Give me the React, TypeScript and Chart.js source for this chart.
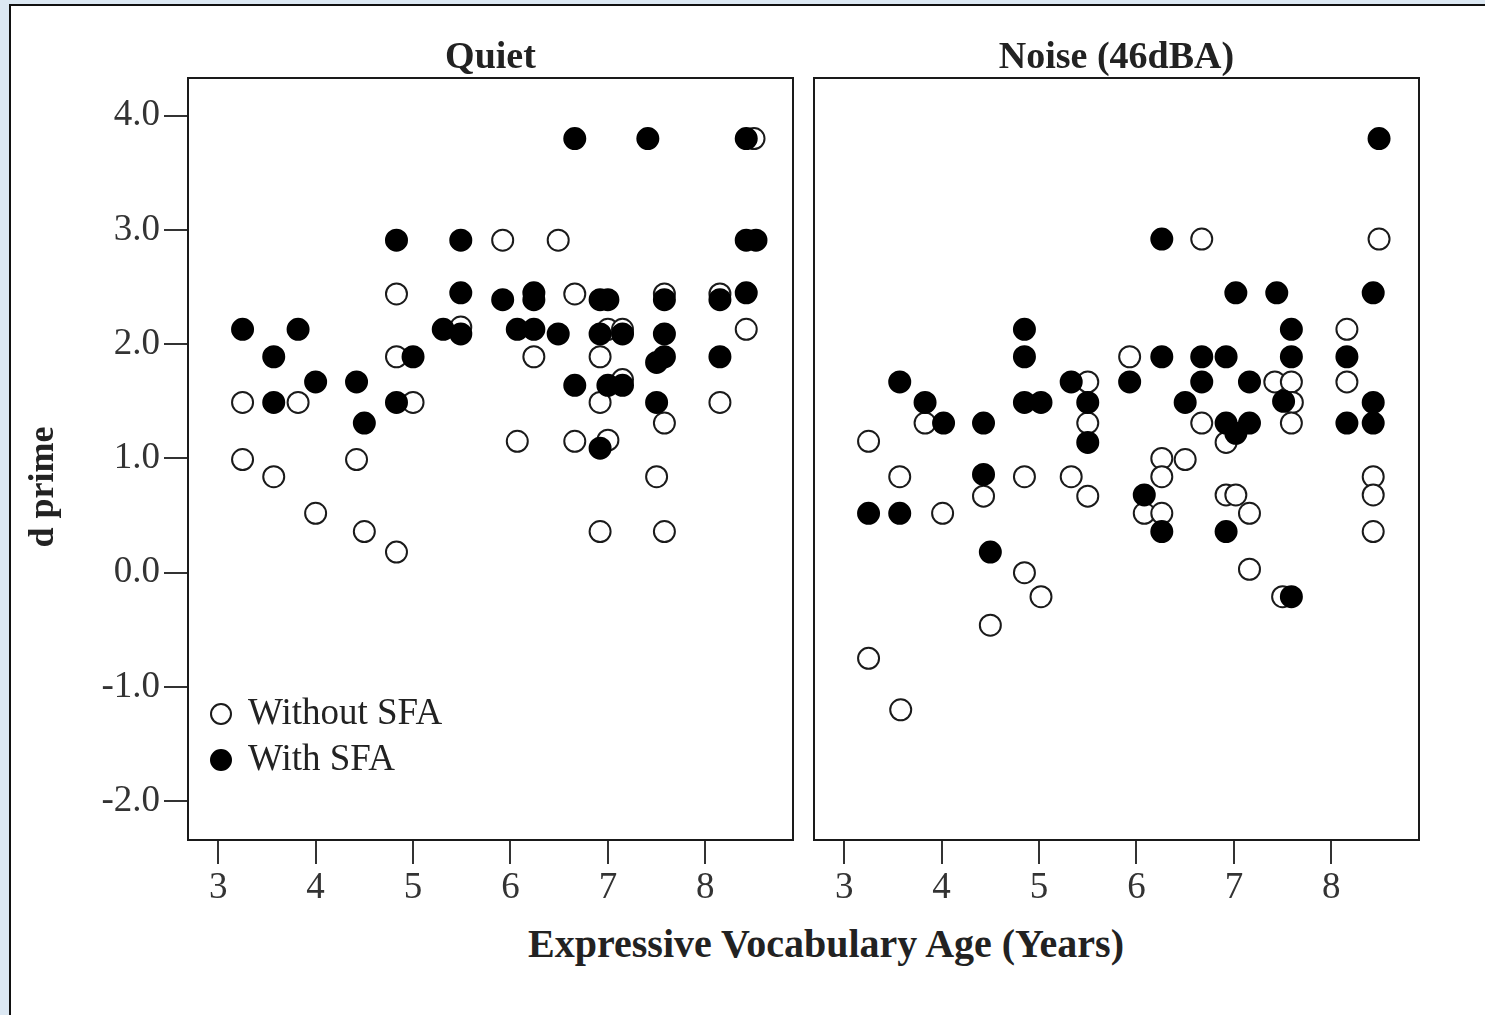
import React, { useEffect, useRef } from "react";
import { Chart, registerables } from "chart.js";

Chart.register(...registerables);

// ---- labels ----
const panelTitles = ["Quiet", "Noise (46dBA)"];
const seriesLabels = ["Without SFA", "With SFA"];
const xAxisTitle = "Expressive Vocabulary Age (Years)";
const yAxisTitle = "d prime";
const xTicks = [3, 4, 5, 6, 7, 8];
const yTicks = [-2, -1, 0, 1, 2, 3, 4];

// ---- Quiet panel ----
const quietWithoutX = [3.25, 3.25, 3.57, 3.82, 4.0, 4.42, 4.5, 4.83, 4.83, 4.83, 5.0, 5.49, 5.92, 6.07, 6.24, 6.49, 6.66, 6.66, 6.92, 6.92, 6.92, 7.0, 7.0, 7.15, 7.15, 7.5, 7.58, 7.58, 7.58, 8.15, 8.15, 8.42, 8.5];
const quietWithoutY = [1.49, 0.99, 0.84, 1.49, 0.52, 0.99, 0.36, 2.44, 1.89, 0.18, 1.49, 2.15, 2.91, 1.15, 1.89, 2.91, 2.44, 1.15, 1.89, 1.49, 0.36, 2.13, 1.16, 2.13, 1.69, 0.84, 2.44, 1.31, 0.36, 2.44, 1.49, 2.13, 3.8];
const quietWithX = [3.25, 3.57, 3.57, 3.82, 4.0, 4.42, 4.5, 4.83, 4.83, 5.0, 5.31, 5.49, 5.49, 5.49, 5.92, 6.07, 6.24, 6.24, 6.24, 6.49, 6.66, 6.66, 6.92, 7.0, 6.92, 6.92, 7.0, 7.15, 7.15, 7.41, 7.5, 7.5, 7.58, 7.58, 7.58, 8.15, 8.15, 8.42, 8.42, 8.52, 8.42];
const quietWithY = [2.13, 1.89, 1.49, 2.13, 1.67, 1.67, 1.31, 2.91, 1.49, 1.89, 2.13, 2.91, 2.45, 2.09, 2.39, 2.13, 2.45, 2.39, 2.13, 2.09, 3.8, 1.64, 2.39, 2.39, 2.09, 1.09, 1.64, 1.64, 2.09, 3.8, 1.84, 1.49, 2.39, 2.09, 1.89, 2.39, 1.89, 3.8, 2.91, 2.91, 2.45];

// ---- Noise panel ----
const noiseWithoutX = [3.25, 3.25, 3.57, 3.58, 3.83, 4.01, 4.43, 4.5, 4.85, 4.85, 5.02, 5.33, 5.5, 5.5, 5.5, 5.93, 6.08, 6.26, 6.26, 6.26, 6.5, 6.67, 6.67, 6.92, 6.92, 7.02, 7.16, 7.16, 7.42, 7.59, 7.6, 7.59, 7.5, 8.16, 8.16, 8.43, 8.43, 8.43, 8.49];
const noiseWithoutY = [1.15, -0.75, 0.84, -1.2, 1.31, 0.52, 0.67, -0.46, 0.84, 0.0, -0.21, 0.84, 1.67, 1.31, 0.67, 1.89, 0.52, 1.0, 0.84, 0.52, 0.99, 2.92, 1.31, 1.14, 0.68, 0.68, 0.52, 0.03, 1.67, 1.67, 1.49, 1.31, -0.21, 2.13, 1.67, 0.84, 0.68, 0.36, 2.92];
const noiseWithX = [3.25, 3.57, 3.57, 3.83, 4.02, 4.43, 4.43, 4.5, 4.85, 4.85, 4.85, 5.02, 5.33, 5.5, 5.5, 5.93, 6.08, 6.26, 6.26, 6.26, 6.5, 6.67, 6.67, 6.92, 6.92, 6.92, 7.02, 7.02, 7.16, 7.16, 7.44, 7.51, 7.59, 7.59, 7.59, 8.16, 8.16, 8.43, 8.43, 8.43, 8.49];
const noiseWithY = [0.52, 1.67, 0.52, 1.49, 1.31, 1.31, 0.86, 0.18, 2.13, 1.89, 1.49, 1.49, 1.67, 1.49, 1.14, 1.67, 0.68, 2.92, 1.89, 0.36, 1.49, 1.89, 1.67, 1.89, 1.31, 0.36, 2.45, 1.22, 1.67, 1.31, 2.45, 1.5, 2.13, 1.89, -0.21, 1.89, 1.31, 2.45, 1.49, 1.31, 3.8];

const X_MIN = 2.69;
const X_MAX = 8.9;
const Y_MIN = -2.34;
const Y_MAX = 4.33;

const SERIF = "'Liberation Serif', 'Times New Roman', Times, serif";
const INK = "#1a1a1a";

function toPoints(xs: number[], ys: number[]) {
  return xs.map((x, i) => ({ x, y: ys[i] }));
}

const frameBox = {
  id: "frameBox",
  afterDraw(chart: any) {
    const { ctx, chartArea: a } = chart;
    ctx.save();
    ctx.strokeStyle = INK;
    ctx.lineWidth = 2;
    ctx.strokeRect(a.left, a.top, a.right - a.left, a.bottom - a.top);
    ctx.restore();
  },
};

const insetLegend = {
  id: "insetLegend",
  afterDraw(chart: any, _args: any, opts: any) {
    if (!opts || !opts.display) return;
    const { ctx, chartArea: a } = chart;
    const ds = chart.data.datasets;
    ctx.save();
    ctx.font = `37px ${SERIF}`;
    ctx.textBaseline = "middle";
    ctx.textAlign = "left";
    ds.forEach((d: any, i: number) => {
      const cy = a.bottom - 80 - (ds.length - 1 - i) * 46;
      const cx = a.left + 33;
      ctx.beginPath();
      ctx.arc(cx, cy, 10, 0, Math.PI * 2);
      ctx.fillStyle = d.pointBackgroundColor;
      ctx.fill();
      ctx.lineWidth = 2;
      ctx.strokeStyle = d.pointBorderColor;
      ctx.stroke();
      ctx.fillStyle = "#222";
      ctx.fillText(d.label, a.left + 60, cy);
    });
    ctx.restore();
  },
};

function makeConfig(title: string, openPts: any[], filledPts: any[], showY: boolean): any {
  const pointCommon = {
    pointStyle: "circle",
    pointRadius: 10.5,
    pointHoverRadius: 10.5,
    pointBorderWidth: 2,
    showLine: false,
  };
  return {
    type: "scatter",
    data: {
      datasets: [
        {
          ...pointCommon,
          label: seriesLabels[0],
          data: openPts,
          pointBackgroundColor: "#ffffff",
          pointBorderColor: INK,
          order: 2,
        },
        {
          ...pointCommon,
          label: seriesLabels[1],
          data: filledPts,
          pointBackgroundColor: "#000000",
          pointBorderColor: "#000000",
          order: 1,
        },
      ],
    },
    options: {
      animation: false,
      responsive: false,
      maintainAspectRatio: false,
      events: [],
      layout: {
        autoPadding: false,
        padding: showY
          ? { left: 0, right: 2, top: 0, bottom: 0 }
          : { left: 14, right: 2, top: 0, bottom: 0 },
      },
      plugins: {
        legend: { display: false },
        tooltip: { enabled: false },
        title: {
          display: true,
          text: title,
          fullSize: false,
          color: "#222",
          font: { family: SERIF, size: 38, weight: "bold", lineHeight: 1.0 },
          padding: { top: 18.8, bottom: 1.2 },
        },
        insetLegend: { display: showY },
      },
      scales: {
        x: {
          type: "linear",
          min: X_MIN,
          max: X_MAX,
          afterBuildTicks: (s: any) => {
            s.ticks = xTicks.map((v) => ({ value: v }));
          },
          afterFit: (s: any) => {
            s.height = 80;
            s.paddingLeft = 0;
            s.paddingRight = 0;
          },
          grid: {
            drawOnChartArea: false,
            drawTicks: true,
            tickLength: 24,
            color: "#333",
            lineWidth: 2,
          },
          border: { display: false },
          ticks: {
            color: "#333",
            font: { family: SERIF, size: 37, lineHeight: 1.2 },
            padding: 2,
            maxRotation: 0,
            autoSkip: false,
            callback: (v: any) => String(v),
          },
        },
        y: {
          type: "linear",
          display: showY,
          min: Y_MIN,
          max: Y_MAX,
          afterBuildTicks: (s: any) => {
            s.ticks = yTicks.map((v) => ({ value: v }));
          },
          afterFit: (s: any) => {
            s.width = showY ? 168 : 0;
            s.paddingTop = 0;
            s.paddingBottom = 0;
          },
          grid: {
            drawOnChartArea: false,
            drawTicks: true,
            tickLength: 24,
            color: "#333",
            lineWidth: 2,
          },
          border: { display: false },
          ticks: {
            color: "#333",
            font: { family: SERIF, size: 37, lineHeight: 1.2 },
            padding: 4,
            autoSkip: false,
            callback: (v: any) => Number(v).toFixed(1),
          },
        },
      },
    },
    plugins: [frameBox, insetLegend],
  };
}

export default function App() {
  const leftRef = useRef<HTMLCanvasElement | null>(null);
  const rightRef = useRef<HTMLCanvasElement | null>(null);

  useEffect(() => {
    const charts: Chart[] = [];
    if (leftRef.current) {
      charts.push(
        new Chart(
          leftRef.current,
          makeConfig(panelTitles[0], toPoints(quietWithoutX, quietWithoutY), toPoints(quietWithX, quietWithY), true)
        )
      );
    }
    if (rightRef.current) {
      charts.push(
        new Chart(
          rightRef.current,
          makeConfig(panelTitles[1], toPoints(noiseWithoutX, noiseWithoutY), toPoints(noiseWithX, noiseWithY), false)
        )
      );
    }
    return () => charts.forEach((c) => c.destroy());
  }, []);

  return (
    <div
      style={{
        position: "absolute",
        left: 0,
        top: 0,
        width: 1485,
        height: 1015,
        background: "#dce8f3",
        overflow: "hidden",
      }}
    >
      <div
        style={{
          position: "absolute",
          left: 9,
          top: 4,
          width: 1500,
          height: 1040,
          background: "#ffffff",
          border: "2px solid #111",
          boxSizing: "border-box",
        }}
      />
      <canvas
        ref={leftRef}
        width={775}
        height={900}
        style={{ position: "absolute", left: 20, top: 20, width: 775, height: 900 }}
      />
      <canvas
        ref={rightRef}
        width={621}
        height={900}
        style={{ position: "absolute", left: 800, top: 20, width: 621, height: 900 }}
      />
      <div
        style={{
          position: "absolute",
          left: 326,
          top: 924,
          width: 1000,
          height: 40,
          lineHeight: "40px",
          textAlign: "center",
          fontFamily: SERIF,
          fontWeight: "bold",
          fontSize: 40,
          color: "#222",
          whiteSpace: "nowrap",
        }}
      >
        {xAxisTitle}
      </div>
      <div
        style={{
          position: "absolute",
          left: 41 - 150,
          top: 487 - 20,
          width: 300,
          height: 40,
          lineHeight: "40px",
          textAlign: "center",
          fontFamily: SERIF,
          fontWeight: "bold",
          fontSize: 36,
          color: "#222",
          whiteSpace: "nowrap",
          transform: "rotate(-90deg)",
        }}
      >
        {yAxisTitle}
      </div>
    </div>
  );
}
